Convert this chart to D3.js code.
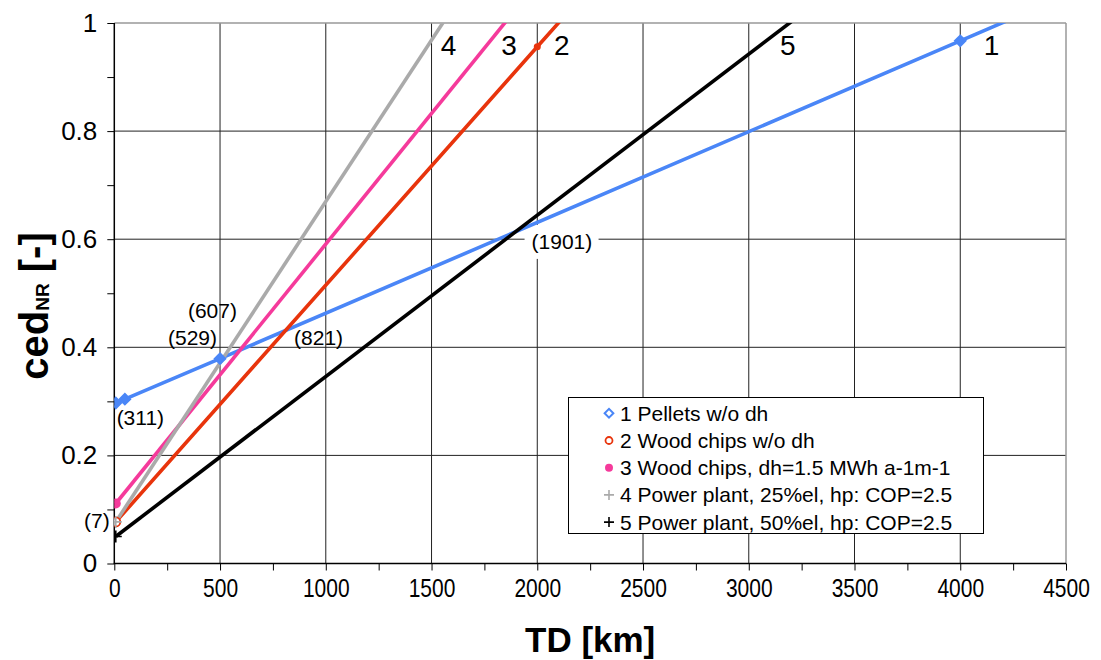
<!DOCTYPE html>
<html><head><meta charset="utf-8">
<script src="https://cdn.jsdelivr.net/npm/d3@7"></script>
<style>
body{margin:0;background:#fff;}
text{font-family:"Liberation Sans",Arial,Helvetica,sans-serif;}
</style></head>
<body><svg id="chart" width="1101" height="660"></svg>
<script>
// ---- data ----
const seriesNames = ["1 Pellets w/o dh","2 Wood chips w/o dh","3 Wood chips, dh=1.5 MWh a-1m-1","4 Power plant, 25%el, hp: COP=2.5","5 Power plant, 50%el, hp: COP=2.5"];
const s1x = [7, 50, 500, 4000, 4250];
const s1y = [0.297, 0.304, 0.379, 0.967, 1.009];
const s2x = [7, 2000, 2150];
const s2y = [0.077, 0.956, 1.022];
const s3x = [7, 1900];
const s3y = [0.111, 1.026];
const s4x = [7, 1600];
const s4y = [0.077, 1.028];
const s5x = [7, 3250];
const s5y = [0.05, 1.017];
const xTicks = [0,500,1000,1500,2000,2500,3000,3500,4000,4500];
const yTicks = [0,0.2,0.4,0.6,0.8,1];
const lineLabels = [{t:"4",x:1580,y:0.959},{t:"3",x:1866,y:0.959},{t:"2",x:2116,y:0.959},{t:"5",x:3185,y:0.959},{t:"1",x:4148,y:0.959}];
const notes = [{t:"(7)",x:-22,y:0.079,a:"end"},{t:"(311)",x:11,y:0.271,a:"start"},{t:"(529)",x:254,y:0.419,a:"start"},{t:"(607)",x:348,y:0.468,a:"start"},{t:"(821)",x:850,y:0.419,a:"start"},{t:"(1901)",x:1973,y:0.595,a:"start",bg:true}];

const colors = ["#4a86f7","#e8340c","#f53a9b","#aaaaaa","#000000"];
const markerIdx = [[0,1,2,3],[0,1],[0],[0],[0]];
const markerType = ["diamond","circleOpen","circle","plus","plus"];

const svg = d3.select("#chart");
const L=114.3,R=1066,T=23,B=563.5;
const x = d3.scaleLinear().domain([0,4500]).range([L,R]);
const y = d3.scaleLinear().domain([0,1]).range([B,T]);

// grid
svg.append("g").selectAll("line").data(yTicks.filter(d=>d>0&&d<1)).join("line")
  .attr("x1",L).attr("x2",R).attr("y1",d=>y(d)).attr("y2",d=>y(d)).attr("stroke","#222").attr("stroke-width",1);
svg.append("g").selectAll("line").data(xTicks.filter(d=>d>0&&d<4500)).join("line")
  .attr("y1",T).attr("y2",B).attr("x1",d=>x(d)).attr("x2",d=>x(d)).attr("stroke","#222").attr("stroke-width",1);
svg.append("line").attr("x1",L).attr("x2",R).attr("y1",T).attr("y2",T).attr("stroke","#999").attr("stroke-width",1.5);
svg.append("line").attr("x1",R).attr("x2",R).attr("y1",T).attr("y2",B).attr("stroke","#999").attr("stroke-width",1.5);

notes.filter(n=>n.bg).forEach(n=>{
  svg.append("rect").attr("x",x(n.x)-7).attr("y",y(n.y)-17).attr("width",74).attr("height",34).attr("fill","#fff");
});

// axes
const yMinor = d3.range(0,1.0001,0.1);
const xMinor = d3.range(0,4500.1,250);
svg.append("g").attr("transform",`translate(${L},0)`)
  .call(d3.axisLeft(y).tickValues(yMinor).tickSize(7).tickFormat(""))
  .call(g=>g.select(".domain").remove()).selectAll("line").attr("stroke","#000");
svg.append("g").attr("transform",`translate(0,${B})`)
  .call(d3.axisBottom(x).tickValues(xMinor).tickSize(7).tickFormat(""))
  .call(g=>g.select(".domain").remove()).selectAll("line").attr("stroke","#000");
const ya = svg.append("g").attr("transform",`translate(${L},0)`)
  .call(d3.axisLeft(y).tickValues(yTicks).tickSize(0).tickPadding(17).tickFormat(d=>d3.format("")(+d.toFixed(1))));
ya.select(".domain").remove();
ya.selectAll("text").attr("font-size",26).attr("font-family","Liberation Sans, Arial, sans-serif").attr("fill","#000");
const xa = svg.append("g").attr("transform",`translate(0,${B})`)
  .call(d3.axisBottom(x).tickValues(xTicks).tickSize(0).tickPadding(16).tickFormat(d3.format("d")));
xa.select(".domain").remove();
xa.selectAll("text").attr("font-size",25).attr("font-family","Liberation Sans, Arial, sans-serif").attr("fill","#000")
  .attr("transform","scale(0.84,1)");
svg.append("line").attr("x1",L).attr("x2",L).attr("y1",T).attr("y2",B+0.5).attr("stroke","#000").attr("stroke-width",1.5);
svg.append("line").attr("x1",L-0.5).attr("x2",R).attr("y1",B).attr("y2",B).attr("stroke","#000").attr("stroke-width",1.5);

// axis titles
svg.append("text").attr("x",(L+R)/2).attr("y",652).attr("text-anchor","middle")
  .attr("font-size",35).attr("font-weight","bold").text("TD [km]");
const yt = svg.append("text").attr("transform",`translate(48,306) rotate(-90)`).attr("text-anchor","middle")
  .attr("font-size",40).attr("font-weight","bold");
yt.append("tspan").text("ced");
yt.append("tspan").attr("font-size",19).attr("dy",1).text("NR");
yt.append("tspan").attr("dy",-1).text(" [-]");

svg.append("clipPath").attr("id","clip").append("rect").attr("x",L).attr("y",T).attr("width",R-L).attr("height",B-T);

const series = [[s1x,s1y],[s2x,s2y],[s3x,s3y],[s4x,s4y],[s5x,s5y]];
const line = d3.line().x(d=>x(d[0])).y(d=>y(d[1]));
const plot = svg.append("g").attr("clip-path","url(#clip)");
series.forEach(([xs,ys],i)=>{
  const pts = xs.map((v,k)=>[v,ys[k]]);
  plot.append("path").datum(pts).attr("d",line).attr("fill","none").attr("stroke",colors[i]).attr("stroke-width",3.6);
});

function drawMarker(g,type,cx,cy,col,legend,small){
  if(type==="diamond"){
    g.append("path").attr("d",d3.symbol(d3.symbolSquare,legend?38:55)()).attr("transform",`translate(${cx},${cy}) rotate(45)`)
      .attr("fill",legend?"#fff":col).attr("stroke",col).attr("stroke-width",2);
  } else if(type==="circleOpen"){
    g.append("circle").attr("cx",cx).attr("cy",cy).attr("r",legend?3.5:4.5).attr("fill","#fff").attr("stroke",col).attr("stroke-width",1.8);
  } else if(type==="circle"){
    g.append("circle").attr("cx",cx).attr("cy",cy).attr("r",legend?4:(small?3.5:5)).attr("fill",col);
  } else {
    const s = legend?5:6;
    g.append("path").attr("d",`M${cx-s},${cy}H${cx+s}M${cx},${cy-s}V${cy+s}`).attr("stroke",col).attr("stroke-width",1.6);
  }
}
series.forEach(([xs,ys],i)=>{
  markerIdx[i].forEach((k,j)=>{
    let t = markerType[i];
    if(i===1 && j>0) t="circle";
    drawMarker(plot,t,x(xs[k]),y(ys[k]),colors[i],false,i===1&&j>0);
  });
});

svg.append("g").selectAll("text").data(lineLabels).join("text")
  .attr("x",d=>x(d.x)).attr("y",d=>y(d.y)).attr("dy","0.36em").attr("text-anchor","middle")
  .attr("font-size",28).text(d=>d.t);
svg.append("g").selectAll("text").data(notes).join("text")
  .attr("x",d=>x(d.x)).attr("y",d=>y(d.y)).attr("dy","0.36em").attr("text-anchor",d=>d.a)
  .attr("font-size",21).text(d=>d.t);

const lg = svg.append("g");
lg.append("rect").attr("x",568.5).attr("y",397.5).attr("width",415).attr("height",136).attr("fill","#fff").attr("stroke","#000").attr("stroke-width",1);
seriesNames.forEach((n,i)=>{
  const cy = 413.3+i*27.2;
  drawMarker(lg,markerType[i],609,cy,colors[i],true);
  lg.append("text").attr("x",620).attr("y",cy).attr("dy","0.36em").attr("font-size",21).text(n);
});
</script></body></html>
